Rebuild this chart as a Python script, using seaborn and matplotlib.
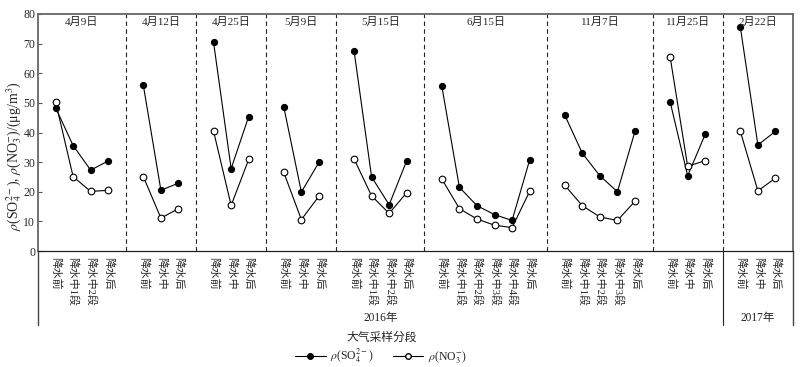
import matplotlib
matplotlib.use("Agg")
import matplotlib.pyplot as plt
from matplotlib.lines import Line2D
import seaborn as sns
import pandas as pd

# ---------------- data ----------------
events = ['4月9日', '4月12日', '4月25日', '5月9日', '5月15日',
          '6月15日', '11月7日', '11月25日', '2月22日']
stages = [
    ['降水前', '降水中1段', '降水中2段', '降水后'],
    ['降水前', '降水中', '降水后'],
    ['降水前', '降水中', '降水后'],
    ['降水前', '降水中', '降水后'],
    ['降水前', '降水中1段', '降水中2段', '降水后'],
    ['降水前', '降水中1段', '降水中2段', '降水中3段', '降水中4段', '降水后'],
    ['降水前', '降水中1段', '降水中2段', '降水中3段', '降水后'],
    ['降水前', '降水中', '降水后'],
    ['降水前', '降水中', '降水后'],
]
so4 = [
    [48.4, 35.6, 27.3, 30.4],
    [55.9, 20.5, 22.9],
    [70.4, 27.8, 45.4],
    [48.6, 19.9, 29.9],
    [67.6, 25.0, 15.6, 30.5],
    [55.6, 21.5, 15.3, 12.3, 10.3, 30.7],
    [45.9, 33.0, 25.4, 20.0, 40.4],
    [50.4, 25.4, 39.4],
    [75.6, 35.8, 40.4],
]
no3 = [
    [50.4, 25.1, 20.1, 20.5],
    [25.1, 11.1, 14.3],
    [40.4, 15.4, 30.9],
    [26.5, 10.6, 18.5],
    [31.1, 18.6, 12.7, 19.7],
    [24.3, 14.3, 10.8, 8.7, 7.9, 20.1],
    [22.2, 15.3, 11.5, 10.3, 16.8],
    [65.6, 28.6, 30.5],
    [40.4, 20.3, 24.6],
]
years = ['2016年', '2017年']
year_event_count = [8, 1]
xlabel_text = '大气采样分段'
so4_label = r'$\rho$(SO$_4^{2-}$)'
no3_label = r'$\rho$(NO$_3^{-}$)'
ylabel_text = r'$\rho$(SO$_4^{2-}$), $\rho$(NO$_3^{-}$)/(μg/m$^3$)'

# ---------------- build table ----------------
rows = []
slot = 0
seps = []
for ei, ev in enumerate(events):
    for si, st in enumerate(stages[ei]):
        rows.append(dict(event=ev, stage=st, x=slot, so4=so4[ei][si], no3=no3[ei][si]))
        slot += 1
    if ei < len(events) - 1:
        seps.append(slot)
        slot += 1
df = pd.DataFrame(rows)
last_slot = slot - 1

# ---------------- style ----------------
sns.set_style('ticks')
plt.rcParams['font.family'] = ['Liberation Serif', 'Noto Sans CJK SC']
plt.rcParams['mathtext.fontset'] = 'stix'
plt.rcParams['axes.unicode_minus'] = True

fig = plt.figure(figsize=(8.02, 3.67), dpi=100)
ax = fig.add_axes([38 / 802, 1 - 251 / 367, (793 - 38) / 802, (251 - 14) / 367])

lw = 0.8
for ev in events:
    d = df[df.event == ev]
    sns.lineplot(data=d, x='x', y='so4', ax=ax, color='black', lw=lw,
                 marker='o', markersize=4.4, markerfacecolor='black',
                 markeredgecolor='black', markeredgewidth=0.8, legend=False)
for ev in events:
    d = df[df.event == ev]
    sns.lineplot(data=d, x='x', y='no3', ax=ax, color='black', lw=lw,
                 marker='o', markersize=4.8, markerfacecolor='white',
                 markeredgecolor='black', markeredgewidth=0.8, legend=False)

ax.set_xlim(-1, last_slot + 1)
ax.set_ylim(0, 80)
ax.set_yticks(range(0, 81, 10))
ax.tick_params(axis='y', direction='in', length=3, width=0.8, labelsize=8.5, pad=2,
               color='#555555')
ax.set_xticks(df.x.tolist())
ax.set_xticklabels(df.stage.tolist(), rotation=-90, va='top', ha='center', fontsize=7.8)
ax.tick_params(axis='x', length=0, pad=4)
ax.set_xlabel('')
ax.set_ylabel(ylabel_text, fontsize=10)
ax.yaxis.set_label_coords(-0.019, 0.40)

for sp in ['left', 'right', 'top']:
    ax.spines[sp].set_color('#666666')
    ax.spines[sp].set_linewidth(1.3)
ax.spines['bottom'].set_color('#222222')
ax.spines['bottom'].set_linewidth(0.9)

# separators
year_sep = seps[year_event_count[0] - 1]
for s in seps:
    ax.axvline(s, color='#222222', lw=0.8, linestyle=(0, (4, 3)))
below = -(325 - 251) / 237
trans = ax.get_xaxis_transform()
for xv in [-1, year_sep, last_slot + 1]:
    ax.plot([xv, xv], [0, below], transform=trans, clip_on=False,
            color='#444444' if xv != year_sep else '#222222', lw=1.0 if xv != year_sep else 0.8)

# event titles
bounds = [-1] + seps + [last_slot + 1]
for ei, ev in enumerate(events):
    cx = (bounds[ei] + bounds[ei + 1]) / 2
    ax.text(cx, 1 - (22 - 14) / 237, ev, transform=trans, ha='center', va='center',
            fontsize=8)

# years
yy = -(318 - 251) / 237
ax.text((-1 + year_sep) / 2, yy, years[0], transform=trans, ha='center', va='center', fontsize=8.3)
ax.text((year_sep + last_slot + 1) / 2, yy, years[1], transform=trans, ha='center', va='center', fontsize=8.3)
ax.text((-1 + year_sep) / 2 + 0.1, -(338 - 251) / 237, xlabel_text, transform=trans,
        ha='center', va='center', fontsize=8.5)

handles = [
    Line2D([], [], color='black', lw=lw, marker='o', markersize=4,
           markerfacecolor='black', markeredgecolor='black'),
    Line2D([], [], color='black', lw=lw, marker='o', markersize=4,
           markerfacecolor='white', markeredgecolor='black'),
]
fig.legend(handles, [so4_label, no3_label], loc='center', bbox_to_anchor=(381 / 802, 1 - 356 / 367),
           ncol=2, frameon=False, fontsize=8.5, handlelength=2.6, columnspacing=1.6,
           handletextpad=0.4, borderpad=0)

fig.savefig('out.png', dpi=100)
